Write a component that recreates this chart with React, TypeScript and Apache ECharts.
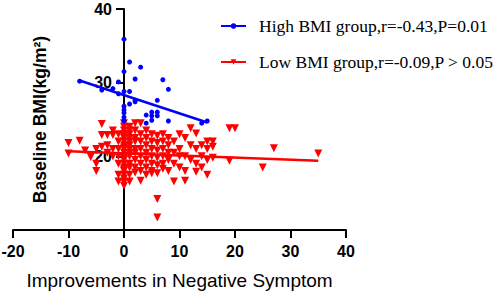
import React, { useEffect, useRef } from "react";
import * as echarts from "echarts";

const highName = "High BMI group,r=-0.43,P=0.01";
const lowName = "Low BMI group,r=-0.09,P > 0.05";

const xTicks = { min: -20, max: 40, interval: 10 };
const yTicks = { min: 10, max: 40, interval: 10 };

const highPoints: [number, number][] = [
  [-8, 30.2], [-4, 29.0], [-2, 29.2], [-1, 30.1], [-1, 28.5],
  [0, 35.9], [0, 31.5], [0, 28.8], [0, 26.8], [0, 26.3], [0, 25.9], [0, 25.3], [0, 24.8],
  [1, 32.8], [1, 28.8], [1, 27.1], [2, 30.5], [2, 27.6], [2, 27.4], [3, 32.1],
  [4, 25.6], [4, 24.5], [5, 26.0], [5, 25.5], [5, 24.9], [6, 26.0], [6, 25.5], [6, 27.6],
  [7, 30.4], [8, 29.1], [8, 24.8], [14, 24.5], [15, 24.8],
];

const highFit: [number, number][] = [[-8, 30.3], [15, 24.6]];
const lowFit: [number, number][] = [[-10, 20.7], [35, 19.4]];

const lowByX: [number, number[]][] = [
  [-10, [21.8, 20.4]],
  [-8, [22.1]],
  [-7, [20.8]],
  [-6, [19.9]],
  [-5, [19.0, 18.0, 21.0]],
  [-4, [24.4, 22.9, 21.3]],
  [-3, [22.9, 21.5, 20.5]],
  [-2, [22.9, 23.5, 21.0, 20.0]],
  [-1, [23.0, 22.0, 21.0, 20.0, 17.5, 16.6, 19.0]],
  [0, [24.5, 24.0, 23.5, 23.0, 22.5, 22.0, 21.5, 21.0, 20.5, 20.0, 19.5, 19.0, 18.5, 18.0, 17.5, 17.0, 16.5, 16.0, 22.8, 21.2, 19.8, 18.2]],
  [1, [24.0, 23.5, 23.0, 22.5, 22.0, 21.5, 21.0, 20.5, 20.0, 19.0, 18.5, 17.5, 16.6]],
  [2, [24.5, 23.5, 22.5, 22.0, 21.0, 20.5, 19.5, 18.5, 17.8]],
  [3, [24.5, 23.0, 22.0, 21.0, 20.0, 19.0, 18.0, 16.7]],
  [4, [23.5, 22.5, 21.5, 20.5, 19.5, 18.5, 17.5]],
  [5, [23.0, 22.0, 21.0, 20.0, 19.0, 18.0, 17.7]],
  [6, [22.8, 21.8, 20.8, 19.8, 18.8, 17.7, 14.2, 11.7]],
  [7, [23.0, 22.0, 21.0, 20.0, 19.0, 18.3]],
  [8, [22.5, 21.5, 20.5, 19.5, 18.0]],
  [9, [22.0, 20.5, 19.0, 16.6]],
  [10, [23.0, 21.0, 20.0, 18.5]],
  [11, [22.5, 20.0, 18.0, 16.7]],
  [12, [23.8, 21.5, 19.5]],
  [13, [23.1, 21.0, 19.0, 17.9]],
  [14, [21.5, 20.0, 18.5]],
  [15, [22.0, 21.0, 19.5, 17.5]],
  [16, [22.0, 21.3, 19.8]],
  [19, [23.8, 19.4]],
  [20, [23.8]],
  [25, [18.5]],
  [27, [21.1]],
  [35, [20.4]],
];

const lowPoints: [number, number][] = lowByX.flatMap(([x, ys]) => ys.map((y) => [x, y] as [number, number]));

const BLUE = "#0000ff";
const RED = "#ff0000";

const GRID_LEFT = 13;
const GRID_RIGHT = 152;
const WIDTH = 498;

export default function App() {
  const ref = useRef<HTMLDivElement>(null);
  useEffect(() => {
    if (!ref.current) return;
    const chart = echarts.init(ref.current, null, { renderer: "svg" });
    const plotW = WIDTH - GRID_LEFT - GRID_RIGHT;
    const zeroOffset = -((0 - xTicks.min) / (xTicks.max - xTicks.min)) * plotW;
    const axisFont = { fontFamily: "Liberation Sans", fontWeight: "bold" as const, fontSize: 16, color: "#000" };
    chart.setOption({
      animation: false,
      backgroundColor: "#fff",
      grid: { left: GRID_LEFT, right: GRID_RIGHT, top: 9, bottom: 62, containLabel: false, outerBoundsMode: "none" },
      legend: {
        orient: "vertical",
        left: 215,
        top: 12,
        itemWidth: 25,
        itemHeight: 7,
        itemGap: 18,
        textStyle: { fontFamily: "Liberation Serif", fontSize: 17.5, color: "#000", padding: [0, 0, 0, 8] },
        data: [highName, lowName],
      },
      xAxis: {
        type: "value",
        min: xTicks.min,
        max: xTicks.max,
        interval: xTicks.interval,
        splitLine: { show: false },
        axisLine: { lineStyle: { color: "#000", width: 2 } },
        axisTick: { show: true, length: 8, lineStyle: { color: "#000", width: 2 } },
        axisLabel: { ...axisFont, margin: 13 },
        name: "Improvements in Negative Symptom",
        nameLocation: "middle",
        nameGap: 41,
        nameTextStyle: { fontFamily: "Liberation Sans", fontSize: 19, color: "#000" },
      },
      yAxis: {
        type: "value",
        min: yTicks.min,
        max: yTicks.max,
        interval: yTicks.interval,
        offset: zeroOffset,
        splitLine: { show: false },
        axisLine: { onZero: false, lineStyle: { color: "#000", width: 2 } },
        axisTick: { show: true, length: 8, lineStyle: { color: "#000", width: 2 } },
        axisLabel: { ...axisFont, margin: 12, showMinLabel: false },
        name: "Baseline BMI(kg/m²)",
        nameLocation: "middle",
        nameGap: 75,
        nameTextStyle: { fontFamily: "Liberation Sans", fontWeight: "bold", fontSize: 17.5, color: "#000" },
      },
      series: [
        {
          name: lowName,
          type: "line",
          data: lowFit,
          symbol: "triangle",
          symbolRotate: 180,
          symbolSize: 8,
          showSymbol: false,
          lineStyle: { color: RED, width: 2.5 },
          itemStyle: { color: RED },
          z: 3,
        },
        {
          name: lowName,
          type: "scatter",
          data: lowPoints,
          symbol: "triangle",
          symbolRotate: 180,
          symbolSize: 8,
          itemStyle: { color: RED, opacity: 1 },
          z: 2,
        },
        {
          name: highName,
          type: "line",
          data: highFit,
          symbol: "circle",
          symbolSize: 5,
          showSymbol: false,
          lineStyle: { color: BLUE, width: 2.5 },
          itemStyle: { color: BLUE },
          z: 4,
        },
        {
          name: highName,
          type: "scatter",
          data: highPoints,
          symbol: "circle",
          symbolSize: 5,
          itemStyle: { color: BLUE, opacity: 1 },
          z: 4,
        },
      ],
    });
    return () => chart.dispose();
  }, []);
  return <div ref={ref} style={{ position: "fixed", left: 0, top: 0, width: 498, height: 292 }} />;
}
